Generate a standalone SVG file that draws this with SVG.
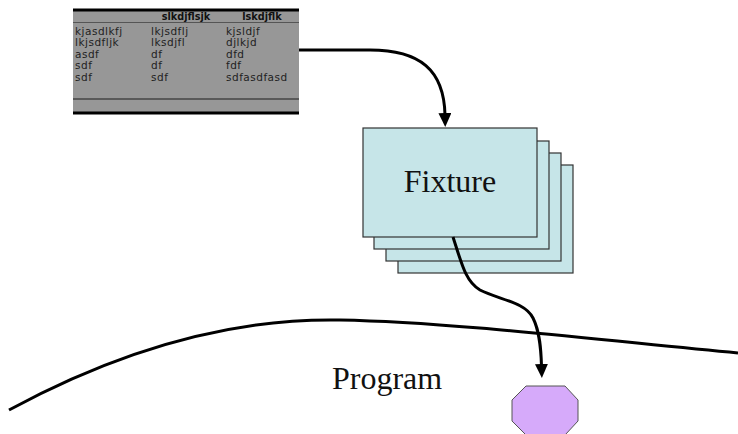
<svg xmlns="http://www.w3.org/2000/svg" width="738" height="434" viewBox="0 0 738 434">
  <style>
    .cell { font-family: "DejaVu Sans", Verdana, sans-serif; font-size: 10.5px; letter-spacing: 0.5px; fill: #222; }
    .head { font-family: "DejaVu Sans", Verdana, sans-serif; font-size: 9.7px; font-weight: bold; fill: #111; text-anchor: middle; }
    .card { fill: #c6e5e8; stroke: #333; stroke-width: 1.2; }
    .big { font-family: "Liberation Serif", "Times New Roman", serif; font-size: 32px; fill: #111; }
    .wire { fill: none; stroke: #000; stroke-width: 3; }
  </style>
  <defs>
    <marker id="arrow" viewBox="0 0 14 13" refX="2" refY="6.5" markerWidth="14" markerHeight="13" markerUnits="userSpaceOnUse" orient="auto">
      <path d="M0,0 L14,6.5 L0,13 Z" fill="#000"/>
    </marker>
  </defs>

  <!-- program boundary -->
  <path id="boundary" class="wire" d="M 9 410 C 120 350, 230 318, 340 320 C 450 322, 600 340, 738 353"/>
  <text class="big" x="332" y="389">Program</text>

  <!-- data table -->
  <g id="table">
    <rect x="73" y="10" width="226" height="103" fill="#979797"/>
    <line x1="73" y1="10" x2="299" y2="10" stroke="#000" stroke-width="3"/>
    <line x1="73" y1="22.5" x2="299" y2="22.5" stroke="#555" stroke-width="1"/>
    <line x1="73" y1="99" x2="299" y2="99" stroke="#444" stroke-width="1.5"/>
    <line x1="73" y1="113" x2="299" y2="113" stroke="#000" stroke-width="3"/>
    <text class="head" x="186" y="20">slkdjflsjk</text>
    <text class="head" x="262" y="20">lskdjflk</text>
    <text class="cell" x="75" y="34.5">kjasdlkfj</text>
    <text class="cell" x="151" y="34.5">lkjsdflj</text>
    <text class="cell" x="226" y="34.5">kjsldjf</text>
    <text class="cell" x="75" y="46">lkjsdfljk</text>
    <text class="cell" x="151" y="46">lksdjfl</text>
    <text class="cell" x="226" y="46">djlkjd</text>
    <text class="cell" x="75" y="57.5">asdf</text>
    <text class="cell" x="151" y="57.5">df</text>
    <text class="cell" x="226" y="57.5">dfd</text>
    <text class="cell" x="75" y="69">sdf</text>
    <text class="cell" x="151" y="69">df</text>
    <text class="cell" x="226" y="69">fdf</text>
    <text class="cell" x="75" y="80.5">sdf</text>
    <text class="cell" x="151" y="80.5">sdf</text>
    <text class="cell" x="226" y="80.5">sdfasdfasd</text>
  </g>

  <!-- stacked fixture cards -->
  <g id="fixture">
    <rect class="card" x="398" y="165" width="175" height="108"/>
    <rect class="card" x="386" y="153" width="175" height="108"/>
    <rect class="card" x="374" y="141" width="175" height="108"/>
    <rect class="card" x="363" y="128" width="174" height="109"/>
    <text class="big" x="450" y="192" text-anchor="middle">Fixture</text>
  </g>

  <!-- target node -->
  <g id="target">
    <polygon points="526,386 565,386 578,400 578,421 565,435 526,435 512,421 512,400" fill="#d6aafa" stroke="#555" stroke-width="1"/>
  </g>

  <g id="connectors">
    <path class="wire" d="M 299 50 L 370 50 C 420 50, 444 70, 445 115" marker-end="url(#arrow)"/>
    <path class="wire" d="M 453 237 C 462 265, 466 282, 480 290 C 500 300, 525 302, 533 318 C 540 332, 541 350, 541.5 366" marker-end="url(#arrow)"/>
  </g>
</svg>
